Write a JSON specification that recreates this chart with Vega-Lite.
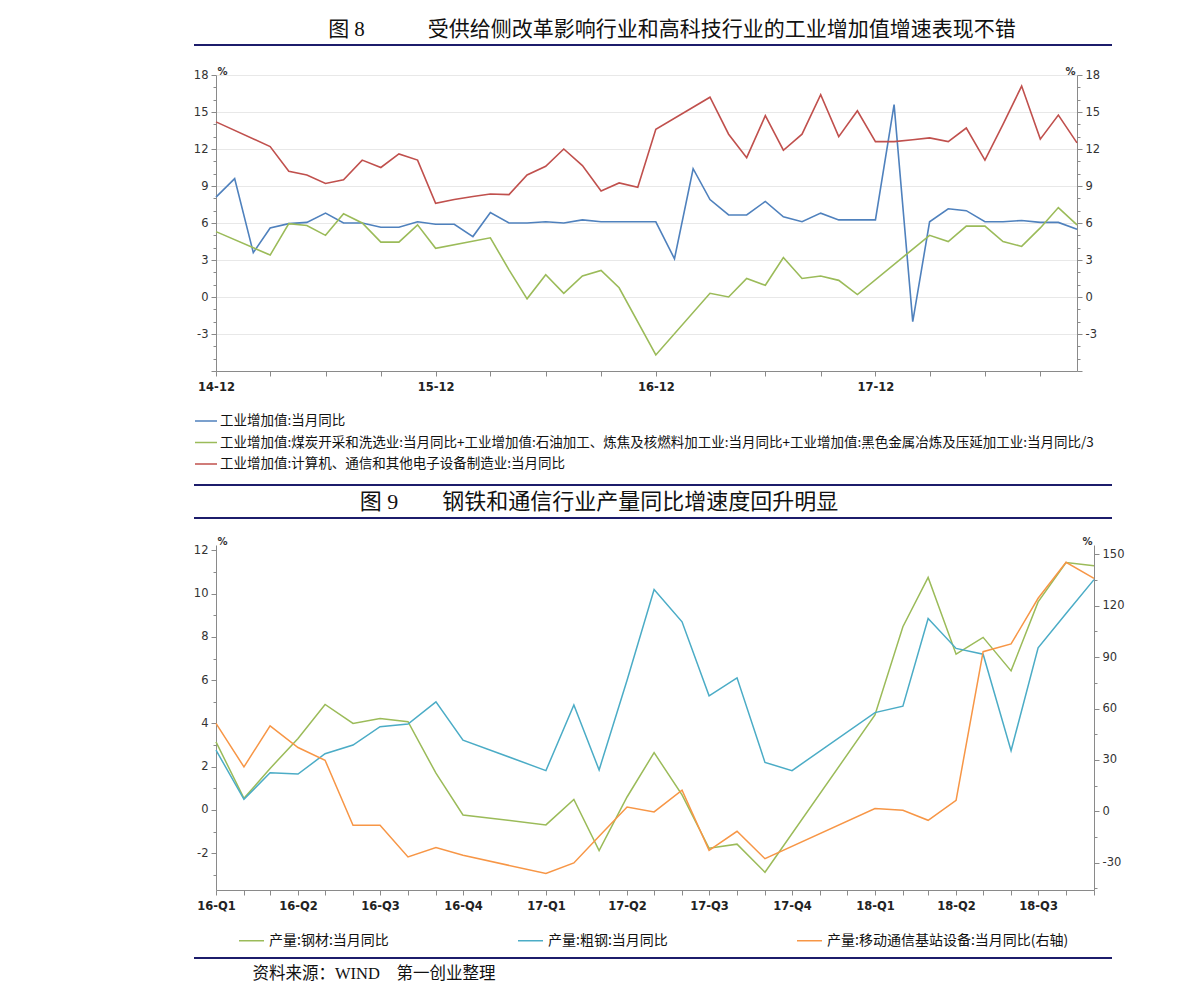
{
  "$schema": "https://vega.github.io/schema/vega-lite/v6.json",
  "background": "white",
  "padding": {"left": 193, "top": 15, "right": 10, "bottom": 10},
  "autosize": {"type": "pad"},
  "config": {
    "view": {"stroke": null},
    "axis": {
      "labelFont": "DejaVu Sans",
      "labelFontSize": 11.5,
      "labelColor": "#333333",
      "domainColor": "#8a8a8a",
      "tickColor": "#8a8a8a",
      "titleFont": "DejaVu Sans",
      "titleColor": "#333333",
      "labelOverlap": false
    }
  },
  "spacing": 17,
  "resolve": {"scale": {"color": "independent"}, "legend": {"color": "independent"}},
  "vconcat": [
    {
      "spacing": 13,
      "resolve": {"scale": {"color": "independent"}, "legend": {"color": "independent"}},
      "vconcat": [
        {
          "spacing": 20,
          "resolve": {"scale": {"color": "independent"}, "legend": {"color": "independent"}},
          "vconcat": [
            {
              "width": 896,
              "height": 30,
              "data": {"values": [{"pos": 0, "label": "图 8\u3000\u3000\u3000受供给侧改革影响行业和高科技行业的工业增加值增速表现不错"}]},
              "layer": [
                {
                  "mark": {"type": "rule", "color": "#1c1c6b", "strokeWidth": 2},
                  "encoding": {
                    "x": {"datum": 0, "type": "quantitative", "scale": {"domain": [0, 1], "range": [-22, 896]}, "axis": null},
                    "x2": {"datum": 1},
                    "y": {"field": "pos", "type": "quantitative", "scale": {"domain": [0, 1], "nice": false, "zero": false}, "axis": null}
                  }
                },
                {
                  "mark": {"type": "text", "font": "Liberation Serif, 'Noto Sans CJK SC'", "fontSize": 21, "color": "#111111", "dx": 8},
                  "encoding": {
                    "text": {"field": "label"},
                    "y": {"datum": 0.5, "type": "quantitative", "axis": null}
                  }
                }
              ]
            },
            {
              "width": 861,
              "height": 296,
              "data": {"values": [
                {"d":"2014-12-01","a":8.1,"b":5.3,"c":14.2},
                {"d":"2015-01-01","a":9.6},
                {"d":"2015-02-01","a":3.6},
                {"d":"2015-03-01","a":5.6,"b":3.4,"c":12.2},
                {"d":"2015-04-01","a":5.95,"b":5.95,"c":10.2},
                {"d":"2015-05-01","a":6.05,"b":5.8,"c":9.9},
                {"d":"2015-06-01","a":6.8,"b":5.0,"c":9.2},
                {"d":"2015-07-01","a":6.0,"b":6.75,"c":9.5},
                {"d":"2015-08-01","a":6.0,"b":6.0,"c":11.1},
                {"d":"2015-09-01","a":5.65,"b":4.45,"c":10.5},
                {"d":"2015-10-01","a":5.65,"b":4.45,"c":11.6},
                {"d":"2015-11-01","a":6.1,"b":5.85,"c":11.1},
                {"d":"2015-12-01","a":5.9,"b":3.95,"c":7.6},
                {"d":"2016-01-01","a":5.9,"c":7.9},
                {"d":"2016-02-01","a":4.9,"c":8.15},
                {"d":"2016-03-01","a":6.85,"b":4.8,"c":8.35},
                {"d":"2016-04-01","a":6.0,"b":2.2,"c":8.3},
                {"d":"2016-05-01","a":6.0,"b":-0.15,"c":9.9},
                {"d":"2016-06-01","a":6.1,"b":1.8,"c":10.6},
                {"d":"2016-07-01","a":6.0,"b":0.3,"c":12.0},
                {"d":"2016-08-01","a":6.25,"b":1.7,"c":10.65},
                {"d":"2016-09-01","a":6.1,"b":2.15,"c":8.6},
                {"d":"2016-10-01","a":6.1,"b":0.75,"c":9.25},
                {"d":"2016-11-01","a":6.1,"c":8.9},
                {"d":"2016-12-01","a":6.1,"b":-4.7,"c":13.6},
                {"d":"2017-01-01","a":3.1},
                {"d":"2017-02-01","a":10.4},
                {"d":"2017-03-01","a":7.9,"b":0.3,"c":16.2},
                {"d":"2017-04-01","a":6.65,"b":0.0,"c":13.2},
                {"d":"2017-05-01","a":6.65,"b":1.5,"c":11.3},
                {"d":"2017-06-01","a":7.75,"b":0.95,"c":14.7},
                {"d":"2017-07-01","a":6.5,"b":3.2,"c":11.9},
                {"d":"2017-08-01","a":6.1,"b":1.5,"c":13.2},
                {"d":"2017-09-01","a":6.8,"b":1.7,"c":16.4},
                {"d":"2017-10-01","a":6.25,"b":1.35,"c":13.0},
                {"d":"2017-11-01","a":6.25,"b":0.2,"c":15.1},
                {"d":"2017-12-01","a":6.25,"c":12.6},
                {"d":"2018-01-01","a":15.6,"c":12.6},
                {"d":"2018-02-01","a":-2.0,"c":12.75},
                {"d":"2018-03-01","a":6.1,"b":5.0,"c":12.9},
                {"d":"2018-04-01","a":7.15,"b":4.5,"c":12.6},
                {"d":"2018-05-01","a":7.0,"b":5.75,"c":13.7},
                {"d":"2018-06-01","a":6.1,"b":5.75,"c":11.1},
                {"d":"2018-07-01","a":6.1,"b":4.5,"c":14.0},
                {"d":"2018-08-01","a":6.2,"b":4.1,"c":17.1},
                {"d":"2018-09-01","a":6.05,"b":5.6,"c":12.8},
                {"d":"2018-10-01","a":6.05,"b":7.25,"c":14.75},
                {"d":"2018-11-01","a":5.5,"b":5.85,"c":12.5}
              ]},
              "transform": [
                {"fold": ["a", "b", "c"], "as": ["series", "value"]},
                {"filter": "isValid(datum.value)"}
              ],
              "encoding": {
                "x": {
                  "field": "d", "type": "temporal",
                  "scale": {"type": "utc", "domain": [{"year": 2014, "month": 12, "date": 1, "utc": true}, {"year": 2018, "month": 11, "date": 1, "utc": true}]},
                  "axis": {
                    "title": null,
                    "grid": false,
                    "values": [
                      {"year": 2014, "month": 12, "date": 1, "utc": true},
                      {"year": 2015, "month": 3, "date": 1, "utc": true},
                      {"year": 2015, "month": 6, "date": 1, "utc": true},
                      {"year": 2015, "month": 9, "date": 1, "utc": true},
                      {"year": 2015, "month": 12, "date": 1, "utc": true},
                      {"year": 2016, "month": 3, "date": 1, "utc": true},
                      {"year": 2016, "month": 6, "date": 1, "utc": true},
                      {"year": 2016, "month": 9, "date": 1, "utc": true},
                      {"year": 2016, "month": 12, "date": 1, "utc": true},
                      {"year": 2017, "month": 3, "date": 1, "utc": true},
                      {"year": 2017, "month": 6, "date": 1, "utc": true},
                      {"year": 2017, "month": 9, "date": 1, "utc": true},
                      {"year": 2017, "month": 12, "date": 1, "utc": true},
                      {"year": 2018, "month": 3, "date": 1, "utc": true},
                      {"year": 2018, "month": 6, "date": 1, "utc": true},
                      {"year": 2018, "month": 9, "date": 1, "utc": true}
                    ],
                    "labelExpr": "utcmonth(datum.value) === 11 ? utcFormat(datum.value, '%y-%m') : ''",
                    "labelFontWeight": "bold",
                    "labelColor": "#222222",
                    "labelFlush": false,
                    "tickSize": 5,
                    "labelPadding": 5
                  }
                }
              },
              "layer": [
                {
                  "mark": {"type": "line", "strokeWidth": 1.6},
                  "encoding": {
                    "y": {
                      "field": "value", "type": "quantitative",
                      "scale": {"domain": [-6, 18], "nice": false, "zero": false},
                      "axis": {
                        "orient": "left",
                        "values": [-6,-5,-4,-3,-2,-1,0,1,2,3,4,5,6,7,8,9,10,11,12,13,14,15,16,17,18],
                        "labelExpr": "datum.value % 3 === 0 && datum.value > -6 ? '' + datum.value : ''",
                        "tickSize": {"condition": {"test": "datum.value % 3 === 0", "value": 5}, "value": 3},
                        "grid": true,
                        "gridColor": "#e8e8e8",
                        "gridOpacity": {"condition": {"test": "datum.value % 3 === 0 && datum.value > -6", "value": 1}, "value": 0},
                        "labelPadding": 3,
                        "minExtent": 22,
                        "maxExtent": 22,
                        "title": "%",
                        "titleAngle": 0,
                        "titleX": 6,
                        "titleY": 1,
                        "titleAlign": "center",
                        "titleBaseline": "bottom",
                        "titleFontSize": 10,
                        "titleFontWeight": "bold"
                      }
                    },
                    "color": {
                      "field": "series", "type": "nominal",
                      "scale": {"domain": ["a", "b", "c"], "range": ["#4f81bd", "#9bbb59", "#c0504d"]},
                      "legend": {
                        "orient": "none",
                        "legendX": -22,
                        "legendY": 334,
                        "direction": "vertical",
                        "title": null,
                        "padding": 0,
                        "symbolType": "stroke",
                        "symbolSize": 484,
                        "symbolStrokeWidth": 1.5,
                        "labelFont": "Noto Sans CJK SC",
                        "labelFontSize": 13.5,
                        "labelColor": "#111111",
                        "labelLimit": 1200,
                        "labelOffset": 2,
                        "rowPadding": 2.5,
                        "labelExpr": "datum.label === 'a' ? '工业增加值:当月同比' : datum.label === 'b' ? '工业增加值:煤炭开采和洗选业:当月同比+工业增加值:石油加工、炼焦及核燃料加工业:当月同比+工业增加值:黑色金属冶炼及压延加工业:当月同比/3' : '工业增加值:计算机、通信和其他电子设备制造业:当月同比'"
                      }
                    }
                  }
                },
                {
                  "mark": {"type": "line", "strokeOpacity": 0},
                  "encoding": {
                    "detail": {"field": "series"},
                    "y": {
                      "field": "value", "type": "quantitative",
                      "scale": {"domain": [-6, 18], "nice": false, "zero": false},
                      "axis": {
                        "orient": "right",
                        "values": [-6,-5,-4,-3,-2,-1,0,1,2,3,4,5,6,7,8,9,10,11,12,13,14,15,16,17,18],
                        "labelExpr": "datum.value % 3 === 0 && datum.value > -6 ? '' + datum.value : ''",
                        "tickSize": {"condition": {"test": "datum.value % 3 === 0", "value": 5}, "value": 3},
                        "grid": false,
                        "labelPadding": 3,
                        "title": "%",
                        "titleAngle": 0,
                        "titleX": -7,
                        "titleY": 1,
                        "titleAlign": "center",
                        "titleBaseline": "bottom",
                        "titleFontSize": 10,
                        "titleFontWeight": "bold"
                      }
                    }
                  }
                }
              ],
              "resolve": {"axis": {"y": "independent"}}
            }
          ]
        },
        {
          "width": 896,
          "height": 33,
          "data": {"values": [{"pos": 0, "label": "图 9\u3000\u3000钢铁和通信行业产量同比增速度回升明显"}, {"pos": 1, "label": ""}]},
          "layer": [
            {
              "mark": {"type": "rule", "color": "#1c1c6b", "strokeWidth": 2},
              "encoding": {
                "x": {"datum": 0, "type": "quantitative", "scale": {"domain": [0, 1], "range": [-22, 896]}, "axis": null},
                "x2": {"datum": 1},
                "y": {"field": "pos", "type": "quantitative", "scale": {"domain": [0, 1], "nice": false, "zero": false}, "axis": null}
              }
            },
            {
              "transform": [{"filter": "datum.pos === 0"}],
              "mark": {"type": "text", "font": "Liberation Serif, 'Noto Sans CJK SC'", "fontSize": 22, "color": "#111111", "dx": -65},
              "encoding": {
                "text": {"field": "label"},
                "y": {"datum": 0.5, "type": "quantitative", "axis": null}
              }
            }
          ]
        }
      ]
    },
    {
      "spacing": 9,
      "resolve": {"scale": {"color": "independent"}, "legend": {"color": "independent"}},
      "vconcat": [
        {
          "width": 878,
          "height": 345,
          "data": {"values": [
            {"d":"2016-01-01","g":3.15,"b":2.77,"o":51.3},
            {"d":"2016-02-01","g":0.54,"b":0.49,"o":25.9},
            {"d":"2016-03-01","g":1.92,"b":1.72,"o":49.9},
            {"d":"2016-04-01","g":3.3,"b":1.66,"o":37.2},
            {"d":"2016-05-01","g":4.88,"b":2.6,"o":29.8},
            {"d":"2016-06-01","g":4.0,"b":3.0,"o":-8.2},
            {"d":"2016-07-01","g":4.23,"b":3.85,"o":-8.2},
            {"d":"2016-08-01","g":4.08,"b":3.97,"o":-26.7},
            {"d":"2016-09-01","g":1.7,"b":5.0,"o":-21.2},
            {"d":"2016-10-01","g":-0.23,"b":3.23,"o":-25.7},
            {"d":"2017-01-01","g":-0.69,"b":1.82,"o":-36.4},
            {"d":"2017-02-01","g":0.49,"b":4.85,"o":-30.2},
            {"d":"2017-03-01","g":-1.88,"b":1.85,"o":-14.6},
            {"d":"2017-04-01","g":0.6,"b":6.0,"o":2.5},
            {"d":"2017-05-01","g":2.65,"b":10.19,"o":-0.4},
            {"d":"2017-06-01","g":0.7,"b":8.7,"o":12.3},
            {"d":"2017-07-01","g":-1.77,"b":5.28,"o":-22.8},
            {"d":"2017-08-01","g":-1.58,"b":6.11,"o":-11.7},
            {"d":"2017-09-01","g":-2.88,"b":2.2,"o":-27.7},
            {"d":"2017-10-01","b":1.82},
            {"d":"2018-01-01","g":4.39,"b":4.5,"o":1.6},
            {"d":"2018-02-01","g":8.47,"b":4.8,"o":0.6},
            {"d":"2018-03-01","g":10.75,"b":8.85,"o":-5.3},
            {"d":"2018-04-01","g":7.2,"b":7.47,"o":6.4},
            {"d":"2018-05-01","g":7.98,"b":7.2,"o":93.2},
            {"d":"2018-06-01","g":6.43,"b":2.74,"o":97.7},
            {"d":"2018-07-01","g":9.62,"b":7.5,"o":124.4},
            {"d":"2018-08-01","g":11.44,"b":9.08,"o":145.4},
            {"d":"2018-09-01","g":11.29,"b":10.65,"o":136}
          ]},
          "encoding": {
            "x": {
              "field": "d", "type": "temporal",
              "scale": {"type": "utc", "domain": [{"year": 2016, "month": 1, "date": 1, "utc": true}, {"year": 2018, "month": 9, "date": 1, "utc": true}]},
              "axis": {
                "title": null,
                "grid": false,
                "tickCount": {"interval": "month", "step": 1},
                "labelExpr": "utcmonth(datum.value) % 3 === 0 ? utcFormat(datum.value, '%y') + '-Q' + (floor(utcmonth(datum.value) / 3) + 1) : ''",
                "labelFontWeight": "bold",
                "labelColor": "#222222",
                "labelFlush": false,
                "tickSize": 5,
                "labelPadding": 5
              }
            }
          },
          "layer": [
            {
              "transform": [
                {"fold": ["g", "b"], "as": ["series", "value"]},
                {"filter": "isValid(datum.value)"}
              ],
              "mark": {"type": "line", "strokeWidth": 1.5},
              "encoding": {
                "y": {
                  "field": "value", "type": "quantitative",
                  "scale": {"domain": [-3.7, 12.25], "nice": false, "zero": false},
                  "axis": {
                    "orient": "left",
                    "values": [-3,-2,-1,0,1,2,3,4,5,6,7,8,9,10,11,12],
                    "labelExpr": "datum.value % 2 === 0 ? '' + datum.value : ''",
                    "tickSize": {"condition": {"test": "datum.value % 2 === 0", "value": 5}, "value": 3},
                    "grid": false,
                    "labelPadding": 3,
                    "minExtent": 22,
                    "maxExtent": 22,
                    "title": "%",
                    "titleAngle": 0,
                    "titleX": 6,
                    "titleY": 1,
                    "titleAlign": "center",
                    "titleBaseline": "bottom",
                    "titleFontSize": 10,
                    "titleFontWeight": "bold"
                  }
                },
                "color": {
                  "field": "series", "type": "nominal",
                  "scale": {"domain": ["g", "b", "o"], "range": ["#9bbb59", "#4bacc6", "#f79646"]},
                  "legend": {
                    "orient": "none",
                    "legendX": 22,
                    "legendY": 382,
                    "direction": "horizontal",
                    "title": null,
                    "padding": 0,
                    "symbolType": "stroke",
                    "symbolSize": 625,
                    "symbolStrokeWidth": 1.5,
                    "labelFont": "Noto Sans CJK SC",
                    "labelFontSize": 14,
                    "labelColor": "#111111",
                    "labelLimit": 600,
                    "labelOffset": 4,
                    "columnPadding": 126,
                    "labelExpr": "datum.label === 'g' ? '产量:钢材:当月同比' : datum.label === 'b' ? '产量:粗钢:当月同比' : '产量:移动通信基站设备:当月同比(右轴)'"
                  }
                }
              }
            },
            {
              "transform": [
                {"fold": ["o"], "as": ["series", "value"]},
                {"filter": "isValid(datum.value)"}
              ],
              "mark": {"type": "line", "strokeWidth": 1.5},
              "encoding": {
                "y": {
                  "field": "value", "type": "quantitative",
                  "scale": {"domain": [-46, 155.5], "nice": false, "zero": false},
                  "axis": {
                    "orient": "right",
                    "values": [-45,-30,-15,0,15,30,45,60,75,90,105,120,135,150],
                    "labelExpr": "datum.value % 30 === 0 ? '' + datum.value : ''",
                    "tickSize": {"condition": {"test": "datum.value % 30 === 0", "value": 5}, "value": 3},
                    "grid": false,
                    "labelPadding": 3,
                    "title": "%",
                    "titleAngle": 0,
                    "titleX": -7,
                    "titleY": 1,
                    "titleAlign": "center",
                    "titleBaseline": "bottom",
                    "titleFontSize": 10,
                    "titleFontWeight": "bold"
                  }
                },
                "color": {"field": "series", "type": "nominal"}
              }
            }
          ],
          "resolve": {"scale": {"y": "independent"}, "axis": {"y": "independent"}}
        },
        {
          "width": 896,
          "height": 30,
          "data": {"values": [{"pos": 1, "label": "资料来源：WIND\u3000第一创业整理"}]},
          "layer": [
            {
              "mark": {"type": "rule", "color": "#1c1c6b", "strokeWidth": 2},
              "encoding": {
                "x": {"datum": 0, "type": "quantitative", "scale": {"domain": [0, 1], "range": [-22, 896]}, "axis": null},
                "x2": {"datum": 1},
                "y": {"field": "pos", "type": "quantitative", "scale": {"domain": [0, 1], "nice": false, "zero": false}, "axis": null}
              }
            },
            {
              "mark": {"type": "text", "font": "Liberation Serif, 'Noto Sans CJK SC'", "fontSize": 16.5, "color": "#111111", "dx": -290},
              "encoding": {
                "text": {"field": "label"},
                "y": {"datum": 0.47, "type": "quantitative", "axis": null}
              }
            }
          ]
        }
      ]
    }
  ]
}
